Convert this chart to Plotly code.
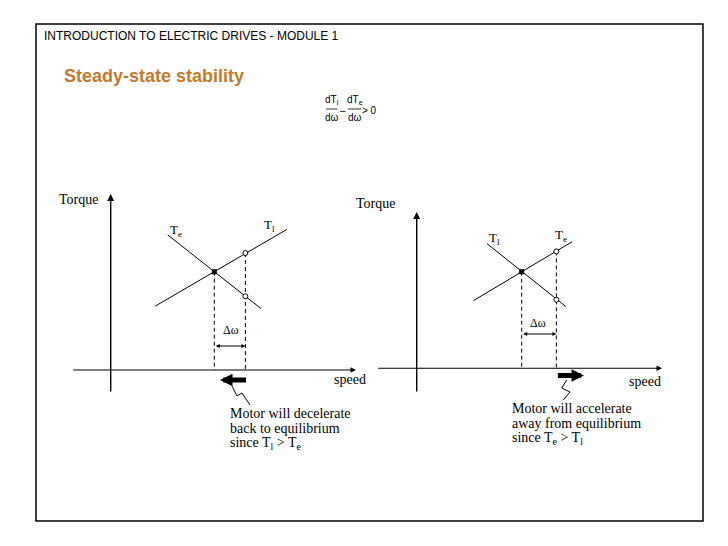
import plotly.graph_objects as go

# ---------------- data (diagram units: speed, torque) ----------------
# Left panel: stable case
L_TE_SPEED = [0.55, 1.45]
L_TE_TORQUE = [1.375, 0.625]
L_TL_SPEED = [0.43, 1.70]
L_TL_TORQUE = [0.65, 1.43]
L_EQ_SPEED = [1.0]
L_EQ_TORQUE = [1.0]
L_DIST_SPEED = [1.3, 1.3]
L_DIST_TORQUE = [1.19, 0.75]          # on T_l, on T_e
L_CALLOUT_SPEED = [1.171, 1.219, 1.267, 1.345]
L_CALLOUT_TORQUE = [-0.163, -0.264, -0.234, -0.356]

# Right panel: unstable case
R_TL_SPEED = [0.67, 1.42]
R_TL_TORQUE = [1.29, 0.64]
R_TE_SPEED = [0.54, 1.48]
R_TE_TORQUE = [0.70, 1.31]
R_EQ_SPEED = [1.0]
R_EQ_TORQUE = [1.0]
R_DIST_SPEED = [1.33, 1.33]
R_DIST_TORQUE = [1.21, 0.71]          # on T_e, on T_l
R_CALLOUT_SPEED = [1.429, 1.381, 1.460, 1.396]
R_CALLOUT_TORQUE = [-0.121, -0.204, -0.245, -0.328]

TITLE = "INTRODUCTION TO ELECTRIC DRIVES - MODULE 1"
HEADING = "Steady-state stability"
LEFT_NOTE = ["Motor will decelerate", "back to equilibrium", "since T<sub>l</sub> &gt; T<sub>e</sub>"]
RIGHT_NOTE = ["Motor will accelerate", "away from equilibrium", "since T<sub>e</sub> &gt; T<sub>l</sub>"]

# ---------------- layout helpers ----------------
W, H = 728, 546
OFF = 8  # page body margin of the browser
SERIF = "Liberation Serif, Times New Roman, serif"
SANS = "Liberation Sans, Arial, sans-serif"
BLACK = "#000000"

def px(x):
    return (x - OFF) / W

def py(y):
    return 1 - (y - OFF) / H

# calibration of each panel (origin screen pixel, pixels per unit)
L_ORIG, L_SC = (110.7, 370.0), (103.6, 98.3)
R_ORIG, R_SC = (416.7, 368.3), (105.0, 96.6)
Y_DOM = [0.2, 0.7]
L_XDOM = [0.05, 0.5]
R_XDOM = [0.5, 0.96]

def xrange_(dom, orig, sc):
    return [(dom[0] * W + OFF - orig[0]) / sc[0], (dom[1] * W + OFF - orig[0]) / sc[0]]

def yrange_(dom, orig, sc):
    pb = (1 - dom[0]) * H + OFF
    pt = (1 - dom[1]) * H + OFF
    return [(orig[1] - pb) / sc[1], (orig[1] - pt) / sc[1]]

fig = go.Figure()
ann = []
shapes = []

def line(xs, ys, ax, dash=None, width=1):
    fig.add_trace(go.Scatter(x=xs, y=ys, mode="lines", xaxis=ax[0], yaxis=ax[1],
                             line=dict(color=BLACK, width=width, dash=dash),
                             hoverinfo="skip"))

def arrow(x, y, axx, ayy, ax, head=2, size=1.0, width=1.2, side="end"):
    ann.append(dict(x=x, y=y, ax=axx, ay=ayy, xref=ax[0], yref=ax[1],
                    axref=ax[0], ayref=ax[1], text="", showarrow=True,
                    arrowhead=head, arrowsize=size, arrowwidth=width,
                    arrowcolor=BLACK, arrowside=side, standoff=0, startstandoff=0))

def label(x, y, text, ax, size=13, family=SERIF, xanchor="center"):
    ann.append(dict(x=x, y=y, xref=ax[0], yref=ax[1], text=text, showarrow=False,
                    font=dict(family=family, size=size, color=BLACK),
                    xanchor=xanchor, yanchor="middle"))

def panel(ax, x_ext, y_ext, te, tl, eq, dist, dw_y, dw_lbl, thick, callout,
          torque_pos, speed_pos, te_lbl, tl_lbl, note_x, note_ys, note):
    # axes
    arrow(x_ext[1], 0, x_ext[0], 0, ax, head=2, size=1.0, width=1.1)
    arrow(0, y_ext[1], 0, y_ext[0], ax, head=2, size=1.0, width=1.4)
    # characteristics
    line(te[0], te[1], ax)
    line(tl[0], tl[1], ax)
    # dashed projections
    line([eq[0][0], eq[0][0]], [eq[1][0], 0], ax, dash="4px,3px")
    line([dist[0][0], dist[0][0]], [max(dist[1]), 0], ax, dash="4px,3px")
    # points
    fig.add_trace(go.Scatter(x=eq[0], y=eq[1], mode="markers", xaxis=ax[0], yaxis=ax[1],
                             marker=dict(symbol="square", size=5, color=BLACK),
                             hoverinfo="skip"))
    fig.add_trace(go.Scatter(x=dist[0], y=dist[1], mode="markers", xaxis=ax[0], yaxis=ax[1],
                             marker=dict(symbol="circle", size=5, color="white",
                                         line=dict(color=BLACK, width=1)),
                             hoverinfo="skip"))
    # delta omega arrow
    arrow(dist[0][0], dw_y, eq[0][0], dw_y, ax, head=2, size=0.8, width=1, side="end+start")
    label(dw_lbl[0], dw_lbl[1], "Δω", ax, size=12)
    # thick direction arrow
    arrow(thick[1], thick[2], thick[0], thick[2], ax, head=2, size=0.5, width=5)
    # callout squiggle
    line(callout[0], callout[1], ax, width=1)
    # labels
    label(torque_pos[0], torque_pos[1], "Torque", ax, size=14)
    label(speed_pos[0], speed_pos[1], "speed", ax, size=14)
    label(te_lbl[0], te_lbl[1], "T<sub>e</sub>", ax, size=13)
    label(tl_lbl[0], tl_lbl[1], "T<sub>l</sub>", ax, size=13)
    for yy, t in zip(note_ys, note):
        label(note_x, yy, t, ax, size=14, xanchor="left")

def ty(orig, sc, pyv):
    return (orig[1] - pyv) / sc[1]

def sx(orig, sc, pxv):
    return (pxv - orig[0]) / sc[0]

# left panel
panel(("x", "y"),
      x_ext=[sx(L_ORIG, L_SC, 71.7), sx(L_ORIG, L_SC, 356)],
      y_ext=[ty(L_ORIG, L_SC, 393), ty(L_ORIG, L_SC, 194)],
      te=(L_TE_SPEED, L_TE_TORQUE), tl=(L_TL_SPEED, L_TL_TORQUE),
      eq=(L_EQ_SPEED, L_EQ_TORQUE), dist=(L_DIST_SPEED, L_DIST_TORQUE),
      dw_y=ty(L_ORIG, L_SC, 346), dw_lbl=(sx(L_ORIG, L_SC, 231), ty(L_ORIG, L_SC, 330)),
      thick=(L_DIST_SPEED[0] + 0.02, sx(L_ORIG, L_SC, 220), ty(L_ORIG, L_SC, 380)),
      callout=(L_CALLOUT_SPEED, L_CALLOUT_TORQUE),
      torque_pos=(sx(L_ORIG, L_SC, 78), ty(L_ORIG, L_SC, 199)),
      speed_pos=(sx(L_ORIG, L_SC, 350), ty(L_ORIG, L_SC, 379)),
      te_lbl=(sx(L_ORIG, L_SC, 176), ty(L_ORIG, L_SC, 230)),
      tl_lbl=(sx(L_ORIG, L_SC, 269), ty(L_ORIG, L_SC, 225)),
      note_x=sx(L_ORIG, L_SC, 228),
      note_ys=[ty(L_ORIG, L_SC, v) for v in (413, 428, 443.5)],
      note=LEFT_NOTE)

# right panel
panel(("x2", "y2"),
      x_ext=[sx(R_ORIG, R_SC, 376.7), sx(R_ORIG, R_SC, 662)],
      y_ext=[ty(R_ORIG, R_SC, 393), ty(R_ORIG, R_SC, 212)],
      te=(R_TE_SPEED, R_TE_TORQUE), tl=(R_TL_SPEED, R_TL_TORQUE),
      eq=(R_EQ_SPEED, R_EQ_TORQUE), dist=(R_DIST_SPEED, R_DIST_TORQUE),
      dw_y=ty(R_ORIG, R_SC, 334), dw_lbl=(sx(R_ORIG, R_SC, 538), ty(R_ORIG, R_SC, 323)),
      thick=(R_DIST_SPEED[0], sx(R_ORIG, R_SC, 584), ty(R_ORIG, R_SC, 375.5)),
      callout=(R_CALLOUT_SPEED, R_CALLOUT_TORQUE),
      torque_pos=(sx(R_ORIG, R_SC, 375), ty(R_ORIG, R_SC, 203)),
      speed_pos=(sx(R_ORIG, R_SC, 645), ty(R_ORIG, R_SC, 381)),
      te_lbl=(sx(R_ORIG, R_SC, 561), ty(R_ORIG, R_SC, 235)),
      tl_lbl=(sx(R_ORIG, R_SC, 494), ty(R_ORIG, R_SC, 238)),
      note_x=sx(R_ORIG, R_SC, 510),
      note_ys=[ty(R_ORIG, R_SC, v) for v in (408, 423, 438.5)],
      note=RIGHT_NOTE)

# ---------------- slide decorations ----------------
shapes.append(dict(type="rect", xref="paper", yref="paper",
                   x0=px(36), x1=px(703), y0=py(521), y1=py(24),
                   line=dict(color=BLACK, width=1.5)))
ann.append(dict(x=px(42), y=py(35.5), xref="paper", yref="paper", text=TITLE,
                showarrow=False, xanchor="left", yanchor="middle",
                font=dict(family=SANS, size=12, color=BLACK)))
ann.append(dict(x=px(62), y=py(76), xref="paper", yref="paper", text="<b>" + HEADING + "</b>",
                showarrow=False, xanchor="left", yanchor="middle",
                font=dict(family=SANS, size=18, color="#C17A2E")))

# stability criterion  dTl/dω - dTe/dω > 0
FS = 10
def ftext(x, y, t, yanchor="middle"):
    ann.append(dict(x=px(x), y=py(y), xref="paper", yref="paper", text=t, showarrow=False,
                    xanchor="center", yanchor=yanchor,
                    font=dict(family=SANS, size=FS, color=BLACK)))
ftext(331.5, 108, "dT<sub>l</sub>", "bottom")
ftext(331.5, 110, "dω", "top")
ftext(342.5, 110, "–")
ftext(354.5, 108, "dT<sub>e</sub>", "bottom")
ftext(354.5, 110, "dω", "top")
ftext(369, 110.5, "&gt; 0")
for x0, x1 in ((326, 337.5), (348, 361)):
    shapes.append(dict(type="line", xref="paper", yref="paper",
                       x0=px(x0), x1=px(x1), y0=py(109), y1=py(109),
                       line=dict(color=BLACK, width=0.8)))

fig.update_layout(
    width=W, height=H, margin=dict(l=0, r=0, t=0, b=0),
    paper_bgcolor="white", plot_bgcolor="white", showlegend=False,
    xaxis=dict(domain=L_XDOM, range=xrange_(L_XDOM, L_ORIG, L_SC), visible=False, anchor="y"),
    yaxis=dict(domain=Y_DOM, range=yrange_(Y_DOM, L_ORIG, L_SC), visible=False, anchor="x"),
    xaxis2=dict(domain=R_XDOM, range=xrange_(R_XDOM, R_ORIG, R_SC), visible=False, anchor="y2"),
    yaxis2=dict(domain=Y_DOM, range=yrange_(Y_DOM, R_ORIG, R_SC), visible=False, anchor="x2"),
    annotations=ann, shapes=shapes,
)

fig.write_html("out.html")
